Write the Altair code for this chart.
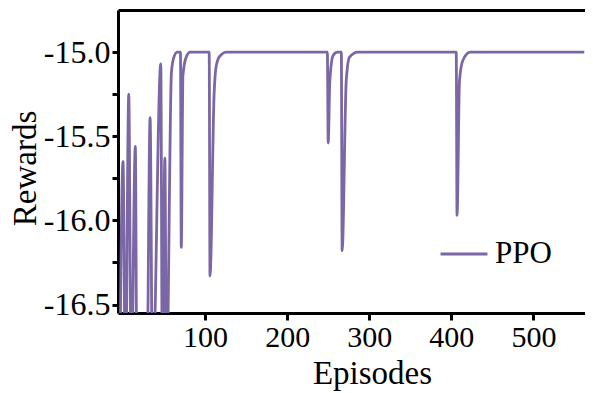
import altair as alt
import pandas as pd

# data
episodes = [-4, 0, 3, 7, 10, 15, 17, 29, 33, 36, 46, 48, 51, 53, 59, 62, 66, 70, 71, 73, 77, 82,
            105, 106, 111, 113, 116, 121, 126,
            249, 250, 252, 256, 261, 266, 267, 272, 276, 286,
            406, 407, 410, 414, 423, 562]
rewards = [-17.0, -15.65, -17.0, -15.25, -17.0, -15.56, -17.0, -17.0, -15.39, -17.0, -15.07, -17.0,
           -15.63, -17.0, -15.12, -15.03, -15.0, -15.0, -16.16, -15.14, -15.03, -15.0,
           -15.0, -16.33, -15.25, -15.1, -15.04, -15.01, -15.0,
           -15.0, -15.54, -15.17, -15.02, -15.0, -15.0, -16.18, -15.17, -15.03, -15.0,
           -15.0, -15.97, -15.17, -15.05, -15.0, -15.0]
series_name = "PPO"
y_ticks = [-16.5, -16.25, -16.0, -15.75, -15.5, -15.25, -15.0]
x_ticks = [100, 200, 300, 400, 500]

df = pd.DataFrame({"Episodes": episodes, "Rewards": rewards, "series": series_name})

W, H = 467, 303
FONT = "Liberation Serif"
COLOR = "#7b67a5"
X_DOMAIN = [-6.1, 562.9]

line = alt.Chart(df).mark_line(clip=True, strokeWidth=2.8, interpolate="monotone").encode(
    x=alt.X("Episodes:Q", scale=alt.Scale(domain=X_DOMAIN, nice=False, zero=False),
            axis=alt.Axis(values=x_ticks, title="Episodes", grid=False, tickSize=7,
                          labelFontSize=30, labelPadding=2,
                          titleX=254, titleY=70, titleBaseline="alphabetic", titleAlign="center")),
    y=alt.Y("Rewards:Q", scale=alt.Scale(domain=[-16.55, -14.75], nice=False, zero=False),
            axis=alt.Axis(values=y_ticks, title="Rewards", grid=False, tickSize=6,
                          labelFontSize=32, labelPadding=2,
                          titleX=-83, titleY=158, titleBaseline="alphabetic", titleAlign="center",
                          titleAngle=270,
                          labelExpr="(abs(datum.value*2) % 1 < 0.001) ? '-' + format(abs(datum.value), '.1f') : ''")),
    color=alt.Color("series:N", scale=alt.Scale(range=[COLOR]),
                    legend=alt.Legend(title=None, orient="none", legendX=321, legendY=219,
                                      symbolType="stroke", symbolSize=2200, symbolStrokeWidth=3,
                                      labelFontSize=31, labelFont=FONT, labelColor="black",
                                      labelOffset=6)),
)

# top frame line drawn as a bare top axis
top = alt.Chart(df).mark_point(opacity=0).encode(
    x=alt.X("Episodes:Q", scale=alt.Scale(domain=X_DOMAIN, nice=False, zero=False),
            axis=alt.Axis(orient="top", labels=False, ticks=False, title=None, grid=False)),
)

chart = alt.layer(line, top).resolve_axis(x="independent").properties(
    width=W, height=H,
    autosize=alt.AutoSizeParams(type="none"),
    padding={"left": 110, "top": 2, "right": 0, "bottom": 80},
).configure_view(stroke="transparent", strokeWidth=0).configure_axis(
    labelFont=FONT, titleFont=FONT, titleFontSize=33,
    titleFontWeight="normal", labelColor="black", titleColor="black",
    domainColor="black", domainWidth=3, tickColor="black", tickWidth=3,
)

chart.save("out.html", embed_options={"renderer": "svg", "actions": False})
